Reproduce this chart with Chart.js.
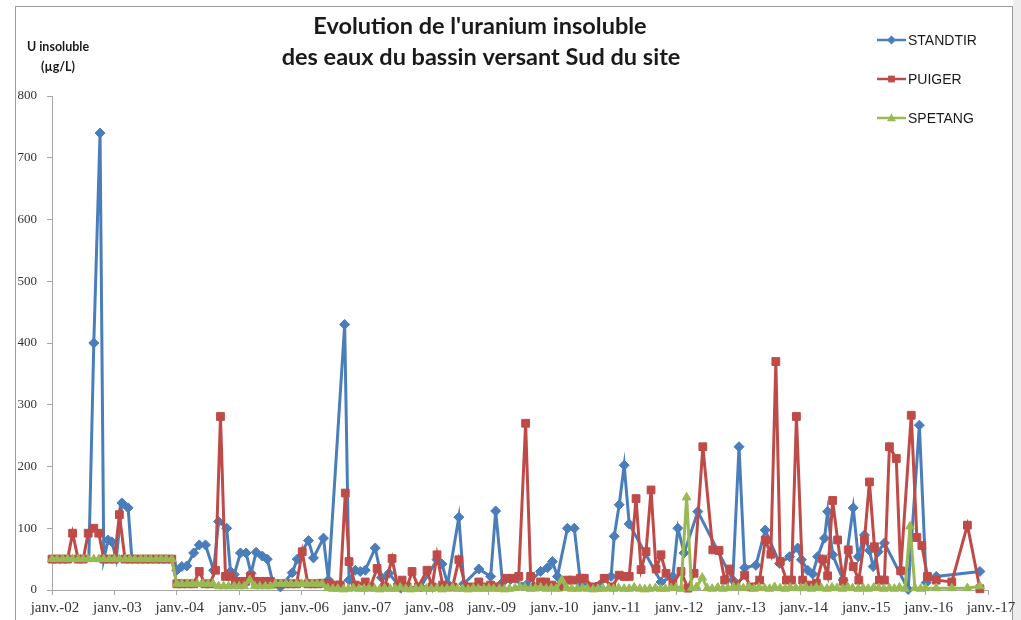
<!DOCTYPE html>
<html>
<head>
<meta charset="utf-8">
<script src="https://cdn.jsdelivr.net/npm/chart.js@4.4.1/dist/chart.umd.min.js"></script>
<style>
  body { margin: 0; background: #fff; }
  canvas { display: block; }
</style>
</head>
<body>
<canvas id="chart" width="1021" height="620"></canvas>
<script>
// dates are decimal years (2004.5 = mid-2004), values in µg/L
const standtirDates = [
  2002.59, 2002.67, 2002.77, 2002.83, 2002.90, 2002.96, 2003.03, 2003.12, 2003.22, 2003.28, 2003.96,
  2004.00, 2004.08, 2004.16, 2004.27, 2004.36, 2004.46, 2004.59, 2004.67, 2004.80, 2004.86, 2004.92,
  2005.02, 2005.11, 2005.19, 2005.27, 2005.37, 2005.45, 2005.54, 2005.66, 2005.85, 2005.93,
  2006.11, 2006.19, 2006.35, 2006.43, 2006.69, 2006.76, 2006.86, 2006.94,
  2007.02, 2007.18, 2007.28, 2007.40, 2007.59, 2007.91,
  2008.17, 2008.25, 2008.34, 2008.52, 2008.60, 2008.84,
  2009.03, 2009.11, 2009.22, 2009.35, 2009.60, 2009.83, 2009.94,
  2010.02, 2010.10, 2010.26, 2010.37, 2010.47, 2010.72, 2010.96,
  2011.01, 2011.09, 2011.17, 2011.25, 2011.76, 2011.95,
  2012.03, 2012.13, 2012.35, 2012.91,
  2013.01, 2013.10, 2013.28, 2013.43, 2013.66, 2013.82, 2013.95,
  2014.01, 2014.11, 2014.19, 2014.27, 2014.38, 2014.43, 2014.51, 2014.68, 2014.84, 2014.92,
  2015.02, 2015.10, 2015.16, 2015.24, 2015.34, 2015.72, 2015.90,
  2016.01, 2016.17, 2016.87
];
const standtirValues = [
  50, 400, 740, 50, 81, 78, 50, 141, 133, 50, 50,
  32, 38, 39, 60, 73, 73, 32, 111, 100, 30, 25,
  60, 60, 27, 61, 55, 50, 12, 5, 28, 50,
  80, 52, 84, 16, 430, 16, 32, 30,
  32, 68, 20, 27, 3, 5,
  49, 42, 10, 118, 10, 34,
  22, 128, 12, 17, 8, 30, 36,
  46, 22, 100, 100, 11, 5, 22,
  87, 138, 202, 107, 13, 22,
  100, 60, 127, 16,
  232, 36, 40, 97, 43, 54, 68,
  49, 32, 26, 54, 84, 127, 57, 16, 133, 54,
  89, 64, 38, 62, 76, 1, 267,
  12, 22, 30
];

const puigerDates = [
  2002.00, 2002.08, 2002.17, 2002.25, 2002.33, 2002.42, 2002.50, 2002.58, 2002.67, 2002.75, 2002.83, 2002.92,
  2003.00, 2003.08, 2003.17, 2003.25, 2003.33, 2003.42, 2003.50, 2003.58, 2003.67, 2003.75, 2003.83, 2003.92,
  2004.00, 2004.08, 2004.17, 2004.27, 2004.36, 2004.45, 2004.53, 2004.62, 2004.70, 2004.78, 2004.86, 2004.94,
  2005.02, 2005.10, 2005.18, 2005.26, 2005.34, 2005.42, 2005.50, 2005.58, 2005.67, 2005.75, 2005.83, 2005.92,
  2006.01, 2006.10, 2006.18, 2006.26, 2006.33, 2006.44, 2006.55, 2006.62, 2006.70, 2006.76, 2006.86,
  2007.02, 2007.10, 2007.21, 2007.33, 2007.45, 2007.54, 2007.61, 2007.69, 2007.77, 2007.87,
  2008.01, 2008.09, 2008.17, 2008.26, 2008.42, 2008.52, 2008.63, 2008.75, 2008.84, 2008.95,
  2009.03, 2009.15, 2009.27, 2009.38, 2009.48, 2009.59, 2009.67, 2009.75, 2009.83, 2009.91,
  2010.01, 2010.13, 2010.26, 2010.34, 2010.47, 2010.53, 2010.67, 2010.85, 2010.97,
  2011.09, 2011.17, 2011.25, 2011.36, 2011.44, 2011.52, 2011.60, 2011.68, 2011.76, 2011.84, 2011.95,
  2012.08, 2012.19, 2012.29, 2012.43, 2012.59, 2012.69, 2012.78, 2012.86, 2012.96,
  2013.10, 2013.20, 2013.34, 2013.43, 2013.52, 2013.60, 2013.67, 2013.77, 2013.85, 2013.93,
  2014.03, 2014.17, 2014.25, 2014.35, 2014.43, 2014.51, 2014.59, 2014.68, 2014.76, 2014.84, 2014.93,
  2015.02, 2015.10, 2015.18, 2015.26, 2015.34, 2015.42, 2015.53, 2015.60, 2015.77, 2015.86, 2015.94,
  2016.03, 2016.17, 2016.42, 2016.67, 2016.87
];
const puigerValues = [
  50, 50, 50, 50, 92, 50, 50, 92, 100, 92, 50, 50,
  50, 122, 50, 50, 50, 50, 50, 50, 50, 50, 50, 50,
  10, 10, 10, 10, 30, 10, 10, 32, 281, 22, 22, 14,
  14, 14, 22, 14, 14, 14, 14, 10, 10, 10, 10, 10,
  62, 10, 10, 10, 11, 11, 8, 8, 157, 46, 8,
  13, 5, 35, 5, 51, 5, 16, 5, 30, 5,
  32, 5, 57, 8, 5, 49, 5, 5, 13, 5,
  8, 5, 19, 19, 22, 270, 22, 5, 13, 13,
  8, 5, 16, 16, 19, 19, 5, 19, 5,
  24, 22, 22, 148, 33, 62, 162, 34, 57, 27, 10,
  30, 3, 27, 232, 65, 64, 16, 34, 8,
  24, 5, 16, 81, 58, 370, 46, 16, 16, 281,
  16, 8, 11, 50, 23, 145, 81, 14, 65, 38, 16,
  81, 175, 70, 16, 16, 232, 213, 31, 283, 85, 72,
  22, 16, 13, 105, 2
];

const spetangDates = [
  2002.00, 2002.08, 2002.17, 2002.25, 2002.33, 2002.42, 2002.50, 2002.58, 2002.67, 2002.75, 2002.83, 2002.92,
  2003.00, 2003.08, 2003.17, 2003.25, 2003.33, 2003.42, 2003.50, 2003.58, 2003.67, 2003.75, 2003.83, 2003.92,
  2004.00, 2004.08, 2004.17, 2004.25, 2004.33, 2004.42, 2004.50, 2004.58, 2004.67, 2004.75, 2004.83, 2004.92,
  2005.00, 2005.08, 2005.17, 2005.25, 2005.33, 2005.42, 2005.50, 2005.58, 2005.67, 2005.75, 2005.83, 2005.92,
  2006.00, 2006.08, 2006.17, 2006.25, 2006.33, 2006.42, 2006.50, 2006.58, 2006.67, 2006.75, 2006.83, 2006.92,
  2007.00, 2007.08, 2007.17, 2007.25, 2007.33, 2007.42, 2007.50, 2007.58, 2007.67, 2007.75, 2007.83, 2007.92,
  2008.00, 2008.08, 2008.17, 2008.25, 2008.33, 2008.42, 2008.50, 2008.58, 2008.67, 2008.75, 2008.83, 2008.92,
  2009.00, 2009.08, 2009.17, 2009.25, 2009.33, 2009.42, 2009.50, 2009.58, 2009.67, 2009.75, 2009.83, 2009.92,
  2010.00, 2010.08, 2010.17, 2010.25, 2010.33, 2010.42, 2010.50, 2010.58, 2010.67, 2010.75, 2010.83, 2010.92,
  2011.00, 2011.08, 2011.17, 2011.25, 2011.33, 2011.42, 2011.50, 2011.58, 2011.67, 2011.75, 2011.83, 2011.92,
  2012.00, 2012.08, 2012.17, 2012.25, 2012.33, 2012.42, 2012.50, 2012.58, 2012.67, 2012.75, 2012.83, 2012.92,
  2013.00, 2013.08, 2013.17, 2013.25, 2013.33, 2013.42, 2013.50, 2013.58, 2013.67, 2013.75, 2013.83, 2013.92,
  2014.00, 2014.08, 2014.17, 2014.25, 2014.33, 2014.42, 2014.50, 2014.58, 2014.67, 2014.75, 2014.83, 2014.92,
  2015.00, 2015.08, 2015.17, 2015.25, 2015.33, 2015.42, 2015.50, 2015.58, 2015.67, 2015.75, 2015.83, 2015.92,
  2016.00, 2016.17, 2016.42, 2016.67, 2016.87
];
const spetangValues = [
  50, 50, 50, 50, 50, 50, 50, 50, 50, 50, 50, 50,
  50, 50, 50, 50, 50, 50, 50, 50, 50, 50, 50, 50,
  10, 10, 10, 10, 10, 10, 10, 10, 6, 6, 6, 6,
  6, 6, 16, 6, 6, 6, 6, 10, 10, 10, 10, 10,
  10, 10, 10, 10, 10, 3, 2, 2, 1, 2, 3, 2,
  2, 3, 2, 1, 3, 2, 2, 4, 2, 1, 2, 3,
  2, 2, 3, 1, 2, 4, 2, 2, 1, 3, 2, 2,
  3, 2, 2, 1, 2, 3, 5, 4, 2, 3, 4, 2,
  3, 2, 16, 3, 2, 2, 3, 2, 1, 2, 2, 3,
  2, 3, 2, 2, 4, 2, 1, 2, 3, 2, 2, 3,
  4, 2, 150, 3, 5, 20, 3, 2, 4, 2, 3, 5,
  4, 3, 5, 2, 4, 3, 2, 5, 3, 2, 4, 3,
  3, 5, 2, 4, 3, 2, 4, 3, 2, 5, 3, 2,
  3, 2, 4, 3, 2, 3, 2, 4, 2, 103, 3, 2,
  3, 3, 3, 3, 6
];

const seriesNames = ['STANDTIR', 'PUIGER', 'SPETANG'];
const seriesColors = ['#4a7ebb', '#be4b48', '#98b954'];
const seriesMarkers = ['rectRot', 'rect', 'triangle'];
const titleLines = ["Evolution de l'uranium insoluble", 'des eaux du bassin versant Sud du site'];
const yTitleLines = ['U insoluble', '(µg/L)'];
const xTickPrefix = 'janv.-';

const toPoints = (dates, values) => dates.map((d, i) => ({ x: d, y: values[i] }));

function drawMarker(ctx, style, x, y, r) {
  ctx.beginPath();
  if (style === 'rectRot') {
    ctx.moveTo(x, y - r); ctx.lineTo(x + r, y); ctx.lineTo(x, y + r); ctx.lineTo(x - r, y);
  } else if (style === 'rect') {
    ctx.rect(x - r * 0.75, y - r * 0.75, r * 1.5, r * 1.5);
  } else {
    ctx.moveTo(x, y - r); ctx.lineTo(x + r, y + r * 0.7); ctx.lineTo(x - r, y + r * 0.7);
  }
  ctx.closePath();
  ctx.fill();
}

// frame, titles and legend (drawn outside the plot like the spreadsheet chart)
const decor = {
  id: 'decor',
  beforeDraw(chart) {
    const ctx = chart.ctx
    ctx.save()
    ctx.fillStyle = '#fff'
    ctx.fillRect(0, 0, chart.width, chart.height)
    ctx.fillStyle = '#ededed'
    ctx.fillRect(1013, 0, 8, chart.height)
    ctx.strokeStyle = '#9a9a9a'
    ctx.lineWidth = 1
    ctx.strokeRect(15.5, 6.5, 997, 640)
    ctx.restore()
  },
  afterDraw(chart) {
    const ctx = chart.ctx
    ctx.save()
    ctx.fillStyle = '#1a1a1a'
    ctx.textAlign = 'center'
    ctx.textBaseline = 'middle'
    ctx.font = 'bold 23.5px Lato'
    ctx.fillText(titleLines[0], 480, 26)
    ctx.fillText(titleLines[1], 481, 57)
    ctx.font = 'bold 12.5px Lato'
    ctx.fillText(yTitleLines[0], 58, 47)
    ctx.fillText(yTitleLines[1], 58, 67)

    ctx.textAlign = 'left'
    ctx.font = '14px "Liberation Sans"'
    seriesNames.forEach((name, i) => {
      const y = 40 + i * 39
      ctx.strokeStyle = seriesColors[i]
      ctx.fillStyle = seriesColors[i]
      ctx.lineWidth = 2.5
      ctx.beginPath()
      ctx.moveTo(877, y)
      ctx.lineTo(906, y)
      ctx.stroke()
      drawMarker(ctx, seriesMarkers[i], 891.5, y, 4.5)
      ctx.fillStyle = '#1a1a1a'
      ctx.fillText(name, 908, y + 1)
    })
    ctx.restore()
  }
}

// [dates, values, marker radius, draw order]
const allSeries = [
  [standtirDates, standtirValues, 5, 3],
  [puigerDates, puigerValues, 5.5, 2],
  [spetangDates, spetangValues, 5, 1]
]

new Chart(document.getElementById('chart'), {
  type: 'line',
  data: {
    datasets: allSeries.map((s, i) => ({
      label: seriesNames[i],
      data: toPoints(s[0], s[1]),
      borderColor: seriesColors[i],
      backgroundColor: seriesColors[i],
      pointBackgroundColor: seriesColors[i],
      pointBorderColor: seriesColors[i],
      pointStyle: seriesMarkers[i],
      // blue readings sitting on the 50 line before 2004 are hidden behind green in the original
      pointRadius: i === 0 ? (c) => (c.raw && c.raw.y === 50 && c.raw.x < 2004 ? 0 : s[2]) : s[2],
      pointBorderWidth: 1,
      borderWidth: 3,
      tension: 0,
      order: s[3], // green on top, then red, then blue (like the original)
      clip: 8
    }))
  },
  options: {
    responsive: false,
    animation: false,
    events: [],
    layout: { padding: { top: 96, right: 33, left: 0, bottom: 0 } },
    plugins: {
      legend: { display: false },
      tooltip: { enabled: false }
    },
    scales: {
      x: {
        type: 'linear',
        min: 2002,
        max: 2017,
        afterFit: (scale) => { scale.height = 30 },
        ticks: {
          stepSize: 1,
          autoSkip: false,
          maxRotation: 0,
          padding: 4,
          labelOffset: 3,
          color: '#333',
          font: { family: 'Liberation Serif', size: 15 },
          callback: (v) => xTickPrefix + String(v).slice(2)
        },
        grid: { drawOnChartArea: false, tickLength: 5, color: '#a6a6a6' },
        border: { color: '#a6a6a6' }
      },
      y: {
        min: 0,
        max: 800,
        afterFit: (scale) => { scale.width = 52 },
        ticks: {
          stepSize: 100,
          padding: 10,
          color: '#333',
          font: { family: 'Liberation Serif', size: 13 }
        },
        grid: { drawOnChartArea: false, tickLength: 5, color: '#a6a6a6' },
        border: { color: '#a6a6a6' }
      }
    }
  },
  plugins: [decor]
})
</script>
</body>
</html>
